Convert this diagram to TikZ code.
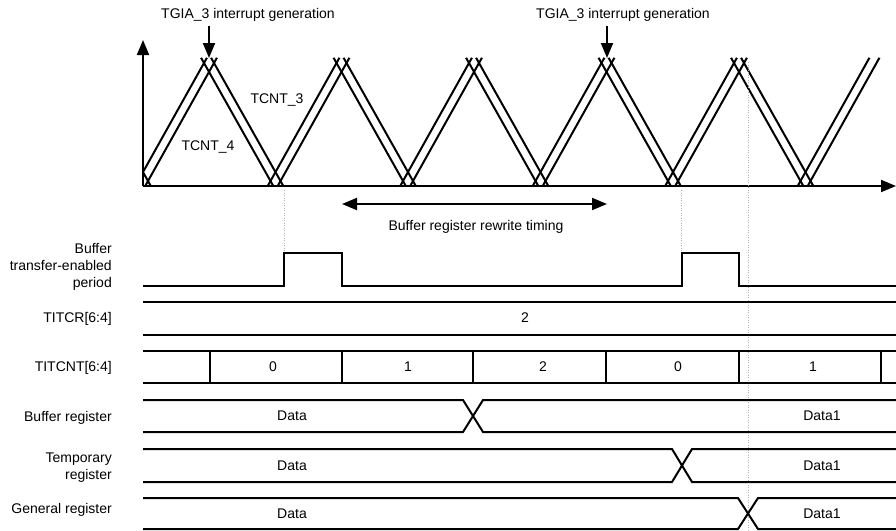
\documentclass[tikz,border=0pt]{standalone}
\usepackage{fontspec}
\setmainfont{Liberation Sans}
\usetikzlibrary{arrows.meta}
\tikzset{
    sigLabel/.style={
        align=right,
        anchor=east,
        inner sep=0pt,
        font=\fontsize{14}{17}\selectfont
    },
    sigValue/.style={
        inner sep=0pt,
        font=\fontsize{14}{17}\selectfont
    },
    sigLine/.style={
        line width=2pt
    },
    sigWave/.style={
        line width=2pt,
        shorten <=-6pt,
        shorten >=-6pt
    },
    sigDotted/.style={
        gray!60,
        line width=0.8pt,
        dash pattern=on 1pt off 1.5pt
    },
    sigArrow/.style={
        -{Triangle[length=15pt,width=12pt]},
        line width=2pt
    },
    sigBoth/.style={
        {Triangle[length=15pt,width=12pt]}-{Triangle[length=15pt,width=12pt]},
        line width=2pt
    }
}
\begin{document}
\begin{tikzpicture}[x=1pt,y=-1pt]
        \useasboundingbox (0,0) rectangle (896,530);

        % counters
        \coordinate (origin) at (143,186);
        \coordinate (yEnd) at (143,40);
        \coordinate (xEnd) at (896,186);
        \begin{scope}
            \clip (143,50) rectangle (896,186);
            \foreach \d in {-5,5} {
                \foreach \k in {0,...,5} {
                    \draw[sigWave] ({143+132.5*\k+\d},181) -- ({209+132.5*\k+\d},63);
                    \draw[sigWave] ({76.5+132.5*\k+\d},63) -- ({143+132.5*\k+\d},181);
                }
            }
        \end{scope}
        \draw[sigArrow] (origin) -- (yEnd);
        \draw[sigArrow] (origin) -- (xEnd);
        \node[sigValue] (tcntC) at (277,100) {TCNT\_3};
        \node[sigValue] (tcntD) at (208,147) {TCNT\_4};

        \node[sigValue] (irqA) at (248,15) {TGIA\_3 interrupt generation};
        \node[sigValue] (irqB) at (623,15) {TGIA\_3 interrupt generation};
        \coordinate (peakA) at (209,58);
        \coordinate (peakB) at (607,58);
        \draw[sigArrow,shorten <=4pt] (irqA.south -| peakA) -- (peakA);
        \draw[sigArrow,shorten <=4pt] (irqB.south -| peakB) -- (peakB);

        \coordinate (rewriteL) at (342,204);
        \coordinate (rewriteR) at (607,204);
        \draw[sigBoth] (rewriteL) -- (rewriteR);
        \node[sigValue] (rewrite) at (476,227) {Buffer register rewrite timing};

        % dotted guides
        \draw[sigDotted] (284,190) -- (284,253);
        \draw[sigDotted] (681,190) -- (681,253);
        \draw[sigDotted] (748,62) -- (748,530);

        % signal names
        \node[sigLabel] (lblEnable) at (112,267) {Buffer\\transfer-enabled\\period};
        \node[sigLabel] (lblTitcr) at (112,319) {TITCR[6:4]};
        \node[sigLabel] (lblTitcnt) at (112,368) {TITCNT[6:4]};
        \node[sigLabel] (lblBufReg) at (112,418) {Buffer register};
        \node[sigLabel] (lblTmpReg) at (112,468) {Temporary\\register};
        \node[sigLabel] (lblGenReg) at (112,510) {General register};

        % transfer-enabled period
        \draw[sigLine] (143,286) -- (284,286) -- (284,253) -- (342,253) -- (342,286)
            -- (682,286) -- (682,253) -- (739,253) -- (739,286) -- (896,286);

        % TITCR
        \draw[sigLine] (143,302) -- (896,302);
        \draw[sigLine] (143,335) -- (896,335);
        \node[sigValue] (titcrVal) at (525,318) {2};

        % TITCNT
        \draw[sigLine] (143,351) -- (896,351);
        \draw[sigLine] (143,383) -- (896,383);
        \foreach \x in {210,342,473,606,739,881}
            \draw[sigLine] (\x,351) -- (\x,383);
        \foreach \x/\v in {273/0,408/1,543/2,678/0,813/1}
            \node[sigValue] at (\x,367) {\v};

        % registers
        \foreach \yt/\yb/\xc in {400/432/473,449/482/682,498/529/748} {
            \draw[sigLine] (143,\yt) -- ({\xc-10},\yt) -- ({\xc+10},\yb) -- (896,\yb);
            \draw[sigLine] (143,\yb) -- ({\xc-10},\yb) -- ({\xc+10},\yt) -- (896,\yt);
            \node[sigValue] at (292,{(\yt+\yb)/2}) {Data};
            \node[sigValue] at (822,{(\yt+\yb)/2}) {Data1};
        }
    \end{tikzpicture}
\end{document}
